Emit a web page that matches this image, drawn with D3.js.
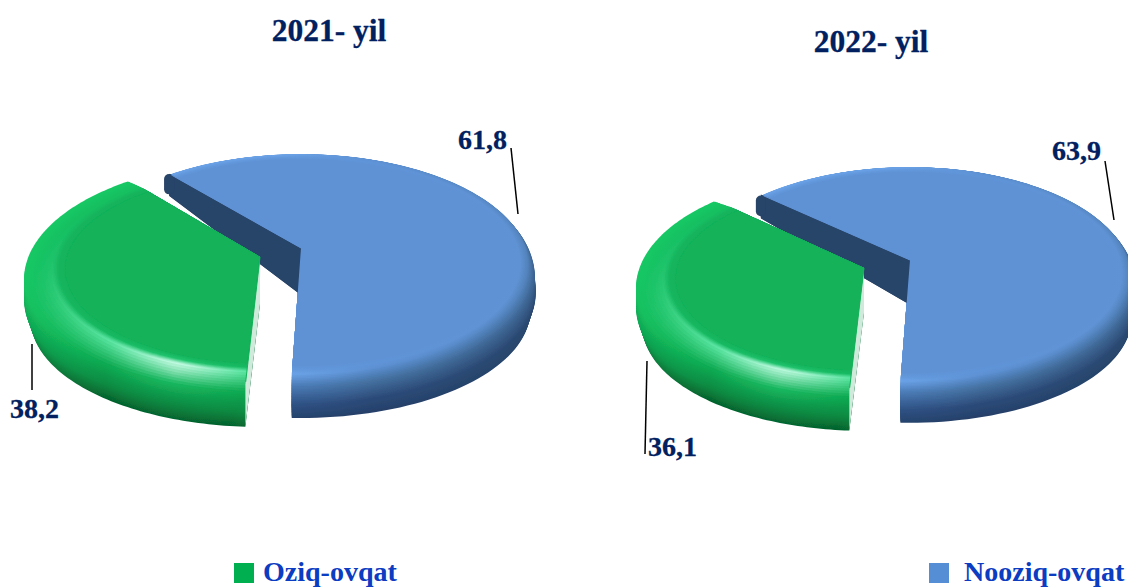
<!DOCTYPE html>
<html>
<head>
<meta charset="utf-8">
<style>
  html, body { margin: 0; padding: 0; background: #fff; }
  svg { display: block; }
  text { font-family: "Liberation Serif", "Times New Roman", serif; font-weight: bold; }
</style>
<script src="https://cdn.jsdelivr.net/npm/d3@7"></script>
</head>
<body>
<div id="chart"></div>
<script>
// Data
const years = ["2021- yil", "2022- yil"];
const categories = ["Nooziq-ovqat", "Oziq-ovqat"];
const nonFood = [61.8, 63.9];
const food = [38.2, 36.1];

const width = 1128, height = 587;

// Where each pie sits (k = perspective strength, S / R = vertical / horizontal radius)
const pieLayouts = [
  {cx: 301, cy: 248, k: 0.147, S: 106.7, R: 222, depth: 42, front: Math.PI + 0.035, shift: [-41, 9], greenTurn: 0.02},
  {cx: 910, cy: 260, k: 0.132, S: 104.2, R: 215, depth: 40, front: Math.PI + 0.038, shift: [-46, 8], greenTurn: 0.02}
];
const titlePos = [[329, 41], [871, 52]];
const labelPos = [
  {nonFood: [458, 149], food: [10, 418]},
  {nonFood: [1052, 160], food: [648, 456]}
];
const leaders = [
  [[511, 148, 518, 214], [32, 344, 32, 390]],
  [[1105, 161, 1114, 220], [647, 361, 645, 454]]
];

// Rim shape: t runs from the flat top face (0) to the bottom edge of the rim (1)
const rimT = [0, 0.1, 0.22, 0.42, 0.7, 1];
// the drop shrinks towards the back of the pie
const dropAt = d3.scaleLinear().domain([-1, 0, 1]).range([0.35, 1.12, 1]);

// Rim colours by t. Blue runs left to right across the slice,
// green spreads out from the highlight at the front of the rim
const palette = {
  blue: {
    base: "#5f92d5", face: "#274468",
    rho: [0.95, 0.98, 1.01, 1.04, 1.045, 1.02],
    z: [0, 0, 0, 0.2, 0.6, 1],
    columns: [
      ["#5f92d5", "#6398dc", "#6ba3e8", "#4a7ab5", "#2f5285", "#26436c"],
      ["#5f92d5", "#5f94d8", "#5c90d2", "#44709f", "#2b4a78", "#25406a"],
      ["#5f92d5", "#5f92d3", "#5484bd", "#3c6390", "#2a4870", "#29466c"]
    ]
  },
  green: {
    base: "#12b25a", face: "#cfe9da",
    rho: [0.87, 0.9, 0.93, 1.05, 1.05, 1.02],
    z: [0, 0, 0, 0.08, 0.55, 1],
    radial: true,
    columns: [
      ["#12b25a", "#22c670", "#d8fff0", "#17b85f", "#0c8b44", "#076a34"],
      ["#12b25a", "#17b962", "#5fe8a6", "#10aa52", "#0b8a42", "#05622c"],
      ["#12b25a", "#12b35b", "#14bd60", "#15c864", "#12b35a", "#0f9a4e"]
    ]
  }
};

const svg = d3.select("#chart").append("svg")
  .attr("width", width).attr("height", height);
const defs = svg.append("defs");
defs.append("filter").attr("id", "soft")
  .append("feGaussianBlur").attr("stdDeviation", 0.5);

const valueText = d3.formatLocale({decimal: ",", thousands: " ", grouping: [3], currency: ["", ""]}).format(".1f");
const pie = d3.pie().sort(null);

// circle angle + radius + drop -> screen point
function projector(layout, origin) {
  return function (angle, rho, drop) {
    const u = rho * Math.sin(angle), v = -rho * Math.cos(angle);
    const w = 1 - layout.k * v;
    return [origin[0] + layout.R * u / w, origin[1] + layout.S * v / w + drop * dropAt(Math.max(-1, Math.min(1, v)))];
  };
}

const line = d3.line();

function wedgePath(project, arc, rho, drop) {
  const steps = d3.range(0, 121).map(i => arc.startAngle + (arc.endAngle - arc.startAngle) * i / 120);
  return line([project(0, 0, drop)].concat(steps.map(a => project(a, rho, drop)))) + "Z";
}

function drawSlice(g, layout, arc, colors, origin, id, lightSpec) {
  const project = projector(layout, origin);
  const layers = d3.range(0, 41).map(i => 1 - i / 40);
  const columnColor = colors.columns.map(col => d3.scaleLinear().domain(rimT).range(col));
  const rhoAt = d3.scaleLinear().domain(rimT).range(colors.rho);
  const zAt = d3.scaleLinear().domain(rimT).range(colors.z);

  layers.forEach((t, i) => {
    const gradId = id + "-" + i;
    let grad;
    if (colors.radial) {
      grad = defs.append("radialGradient").attr("id", gradId)
        .attr("gradientUnits", "userSpaceOnUse")
        .attr("cx", lightSpec.cx).attr("cy", lightSpec.cy).attr("r", lightSpec.r);
    } else {
      grad = defs.append("linearGradient").attr("id", gradId)
        .attr("gradientUnits", "userSpaceOnUse")
        .attr("x1", lightSpec.x1).attr("x2", lightSpec.x2).attr("y1", 0).attr("y2", 0);
    }
    [0, lightSpec.mid, 1].forEach((off, c) => {
      grad.append("stop").attr("offset", off).attr("stop-color", columnColor[c](t));
    });
    g.append("path")
      .attr("d", wedgePath(project, arc, rhoAt(t), zAt(t) * layout.depth))
      .attr("fill", `url(#${gradId})`);
  });

  drawCutFace(g, project, arc, colors, layout, id);

  g.append("path")
    .attr("d", wedgePath(project, arc, rhoAt(0), 0))
    .attr("fill", colors.base);
  // top face runs right out to the cut edge, so the rim does not show a notch there
  g.append("path")
    .attr("d", line([project(0, 0, 0), project(arc.startAngle, 1.0, 0)]))
    .attr("stroke", colors.base).attr("stroke-width", 1);
}

function drawCutFace(g, project, arc, colors, layout, id) {
  const isBlue = id.startsWith("blue");
  const outer = 1.02;
  const a = arc.startAngle;
  g.append("path")
    .attr("d", line([
      project(a, outer, 0), project(0, 0, 0),
      project(0, 0, layout.depth), project(a, outer, layout.depth)
    ]) + "Z")
    .attr("fill", colors.face);
  if (isBlue) {
    // rounded far end of the dark face
    g.append("path")
      .attr("d", line([project(a, outer, 10), project(a, outer, layout.depth - 12)]))
      .attr("stroke", colors.face).attr("stroke-width", 10).attr("stroke-linecap", "round");
  }
}

// Draw the two pies
pieLayouts.forEach((layout, i) => {
  const blueShare = nonFood[i] / (nonFood[i] + food[i]);
  const start = layout.front - blueShare * 2 * Math.PI;
  const arcs = pie.startAngle(start).endAngle(start + 2 * Math.PI)([nonFood[i], food[i]]);
  const g = svg.append("g").attr("filter", "url(#soft)");

  const blueOrigin = [layout.cx, layout.cy];
  const greenOrigin = [layout.cx + layout.shift[0], layout.cy + layout.shift[1]];
  const greenArc = {startAngle: arcs[1].startAngle + layout.greenTurn, endAngle: arcs[1].endAngle + layout.greenTurn};

  drawSlice(g, layout, arcs[0], palette.blue, blueOrigin, "blue" + i,
    {x1: layout.cx - 10, x2: layout.cx + 236, mid: 0.33});
  drawSlice(g, layout, greenArc, palette.green, greenOrigin, "green" + i,
    {cx: greenOrigin[0] - 85, cy: greenOrigin[1] + 118, r: 185, mid: 0.38});

  svg.append("text")
    .attr("x", titlePos[i][0]).attr("y", titlePos[i][1])
    .attr("text-anchor", "middle")
    .attr("font-size", 31.5).attr("fill", "#002060")
    .attr("stroke", "#002060").attr("stroke-width", 0.3)
    .text(years[i]);

  leaders[i].forEach(d => {
    svg.append("line")
      .attr("x1", d[0]).attr("y1", d[1]).attr("x2", d[2]).attr("y2", d[3])
      .attr("stroke", "#000").attr("stroke-width", 1.5);
  });

  svg.append("text")
    .attr("x", labelPos[i].nonFood[0]).attr("y", labelPos[i].nonFood[1])
    .attr("font-size", 28).attr("fill", "#002060")
    .attr("stroke", "#002060").attr("stroke-width", 0.3)
    .text(valueText(nonFood[i]));
  svg.append("text")
    .attr("x", labelPos[i].food[0]).attr("y", labelPos[i].food[1])
    .attr("font-size", 28).attr("fill", "#002060")
    .attr("stroke", "#002060").attr("stroke-width", 0.3)
    .text(valueText(food[i]));
});

// Legend
const legendItems = [
  {name: categories[1], color: "#00b050", x: 234},
  {name: categories[0], color: "#558ed5", x: 929}
];
const legend = svg.selectAll(".legend").data(legendItems).enter().append("g").attr("class", "legend");
legend.append("rect")
  .attr("x", d => d.x).attr("y", 563)
  .attr("width", 20).attr("height", 20)
  .attr("fill", d => d.color);
legend.append("text")
  .attr("x", d => d.x + (d.x < 500 ? 29 : 35)).attr("y", 581)
  .attr("font-size", 28).attr("fill", "#0b3cc1")
  .text(d => d.name);
</script>
</body>
</html>
